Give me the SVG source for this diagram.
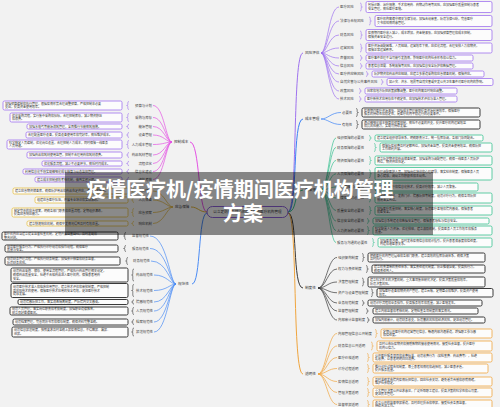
<svg xmlns="http://www.w3.org/2000/svg" width="500" height="407" viewBox="0 0 500 407">
<style>
text{font-family:"Noto Sans CJK SC","Noto Sans",sans-serif}
.bl{font-size:3.6px;fill:#333}
.sl{font-size:3.4px;fill:#444}
.le{font-size:3.4px;fill:#444;text-anchor:end}
.bt{font-size:3px;fill:#333}
.bx{fill:#fcfcfc;stroke-width:0.8}
.bx.sk{stroke-width:1}
.br{fill:none;stroke-width:0.6}
.fan{fill:none;stroke-width:0.7}
.trunk{fill:none;stroke-width:1}
.sp{stroke:#9f72ef}.sb{stroke:#3b82f6}.sg{stroke:#38c190}.sk{stroke:#3a3a3a}.so{stroke:#f0a53e}.sm{stroke:#e452e4}.sy{stroke:#dcb038}.sl2{stroke:#4b8cf5}.syb{stroke:#e6bf45}
.title{font-size:20px;font-weight:700;fill:#fff;text-anchor:middle}
</style>
<rect width="500" height="407" fill="#f2f2f2"/>
<g id="connectors">
<path class="trunk sp" d="M288,212C298,212 292,53 303,53"/>
<path class="trunk sb" d="M288,212C298,212 292,119 303,119"/>
<path class="trunk sg" d="M288,212C298,212 293,190 303,190"/>
<path class="trunk sk" d="M288,213C298,213 292,288 303,288"/>
<path class="trunk so" d="M288,213C298,213 292,374 303,374"/>
<path class="trunk sm" d="M207,212C198,212 200,142 190,142"/>
<path class="trunk sy" d="M207,212C199,212 198,207 191,207"/>
<path class="trunk sl2" d="M207,213C198,213 201,284 192,284"/>
<g class="fan sp">
<path d="M321,53C327,53 329,7 339,7"/><path d="M321,53C327,53 329,21 339,21"/><path d="M321,53C327,53 329,35 339,35"/><path d="M321,53C327,53 329,48 339,48"/><path d="M321,53C327,53 329,58 339,58"/><path d="M321,53C327,53 329,66 339,66"/><path d="M321,53C327,53 329,74 339,74"/><path d="M321,53C327,53 329,82 339,82"/><path d="M321,53C327,53 329,91 339,91"/><path d="M321,53C327,53 329,99 339,99"/>
</g>
<g class="fan sb">
<path d="M321,119C328,119 331,112.5 341,112.5"/><path d="M321,119C328,119 331,124.5 341,124.5"/>
</g>
<g class="fan sg">
<path d="M321,190C328,190 330,138 336,138"/><path d="M321,190C328,190 330,147.5 336,147.5"/><path d="M321,190C328,190 330,160.5 336,160.5"/><path d="M321,190C328,190 330,173.75 336,173.75"/><path d="M321,190C328,190 330,187 336,187"/><path d="M321,190C328,190 330,198 336,198"/><path d="M321,190C328,190 330,210.5 336,210.5"/><path d="M321,190C328,190 330,221 336,221"/><path d="M321,190C328,190 330,230.5 336,230.5"/><path d="M321,190C328,190 330,242.5 336,242.5"/>
</g>
<g class="fan sk">
<path d="M318,288C326,288 328,257.5 337,257.5"/><path d="M318,288C326,288 328,269 337,269"/><path d="M318,288C326,288 328,282 337,282"/><path d="M318,288C326,288 328,292.75 337,292.75"/><path d="M318,288C326,288 328,303 337,303"/><path d="M318,288C326,288 328,311 337,311"/><path d="M318,288C326,288 328,320 337,320"/>
</g>
<g class="fan so">
<path d="M318,374C326,374 328,333.5 337,333.5"/><path d="M318,374C326,374 328,346 337,346"/><path d="M318,374C326,374 328,357.5 337,357.5"/><path d="M318,374C326,374 328,368.5 337,368.5"/><path d="M318,374C326,374 328,381.5 337,381.5"/><path d="M318,374C326,374 328,392.5 337,392.5"/><path d="M318,374C326,374 328,404.5 337,404.5"/>
</g>
<g class="fan sm">
<path d="M172,142C166,142 164,105.5 153,105.5"/><path d="M172,142C166,142 164,117.5 153,117.5"/><path d="M172,142C166,142 164,126.5 153,126.5"/><path d="M172,142C166,142 164,135 153,135"/><path d="M172,142C166,142 164,144.5 153,144.5"/><path d="M172,142C166,142 164,155 153,155"/><path d="M172,142C166,142 164,163.5 153,163.5"/><path d="M172,142C166,142 164,171.5 153,171.5"/><path d="M172,142C166,142 164,179.5 153,179.5"/>
</g>
<g class="fan sy">
<path d="M173,207C167,207 164,191 153,191"/><path d="M173,207C167,207 164,200 153,200"/><path d="M173,207C167,207 164,212.5 153,212.5"/><path d="M173,207C167,207 164,223.5 153,223.5"/>
</g>
<g class="fan sl2">
<path d="M176,284C170,284 167,236 150,236"/><path d="M176,284C170,284 167,248.5 150,248.5"/><path d="M176,284C170,284 167,261 151,261"/><path d="M176,284C170,284 167,275 154,275"/><path d="M176,284C170,284 167,290.5 154,290.5"/><path d="M176,284C170,284 167,302 154,302"/><path d="M176,284C170,284 167,311 154,311"/><path d="M176,284C170,284 167,322 154,322"/><path d="M176,284C170,284 167,332 154,332"/>
</g>
</g>
<g id="root">
<rect x="207" y="206.5" width="81" height="11" rx="5.5" fill="#f4f4f4" stroke="#8b5fd6" stroke-width="1"/>
<text x="247.5" y="213.3" font-size="3.6" fill="#333" text-anchor="middle">以立足防控为核心的疫情期间医疗机构管理</text>
</g>
<g id="b-risk"><text class="bl" x="305" y="54.3">风险评估</text></g>
<g id="r1"><text class="sl" x="340" y="8.2">医疗风险</text><path class="br sp" d="M360,3q1.2,0 1.2,1.2V6.2q0,0.8 1.2,0.8q-1.2,0 -1.2,0.8V9.8q0,1.2 -1.2,1.2"/><rect class="bx sp" x="366" y="1.5" width="126" height="11" rx="1.5"/><text class="bt" x="368" y="6.15">包括诊断、治疗措施、手术和用药、药物副作用等风险，应加强医疗质量控制与患者</text><text class="bt" x="368" y="9.95">安全管理，降低医疗差错。</text></g>
<g id="r2"><text class="sl" x="340" y="22.2">法律与合规风险</text><path class="br sp" d="M369,17q1.2,0 1.2,1.2V20.2q0,0.8 1.2,0.8q-1.2,0 -1.2,0.8V23.8q0,1.2 -1.2,1.2"/><rect class="bx sp" x="375" y="15.5" width="117" height="11" rx="1.5"/><text class="bt" x="377" y="20.15">医疗机构需遵守相关法律法规，加强合规审查，防范法律纠纷，完善医疗</text><text class="bt" x="377" y="23.95">文书和知情同意管理。</text></g>
<g id="r3"><text class="sl" x="340" y="36.2">财务风险</text><path class="br sp" d="M360,31q1.2,0 1.2,1.2V34.2q0,0.8 1.2,0.8q-1.2,0 -1.2,0.8V37.8q0,1.2 -1.2,1.2"/><rect class="bx sp" x="366" y="29.5" width="126" height="11" rx="1.5"/><text class="bt" x="368" y="34.15">疫情期间医疗收入减少，成本增加，资金链紧张，应加强预算管理和成本控制，</text><text class="bt" x="368" y="37.95">保障资金安全运行。</text></g>
<g id="r4"><text class="sl" x="340" y="49.2">运营风险</text><path class="br sp" d="M360,44q1.2,0 1.2,1.2V47.2q0,0.8 1.2,0.8q-1.2,0 -1.2,0.8V50.8q0,1.2 -1.2,1.2"/><rect class="bx sp" x="366" y="43" width="126" height="10" rx="1.5"/><text class="bt" x="368" y="47.15">医疗资源调配困难，人员短缺，运营效率下降，应优化流程，合理安排人力和物资，</text><text class="bt" x="368" y="50.95">保障正常运营秩序。</text></g>
<g id="r5"><text class="sl" x="340" y="59.2">声誉风险</text><path class="br sp" d="M360,55.5q1.2,0 1.2,1.2V57.2q0,0.8 1.2,0.8q-1.2,0 -1.2,0.8V59.3q0,1.2 -1.2,1.2"/><rect class="bx sp" x="366" y="55" width="107" height="6" rx="1.5"/><text class="bt" x="368" y="59.05">医疗事件处理不当可能引发舆情，影响医疗机构社会形象和公信力。</text></g>
<g id="r6"><text class="sl" x="340" y="67.2">信息风险</text><path class="br sp" d="M360,63.5q1.2,0 1.2,1.2V65.2q0,0.8 1.2,0.8q-1.2,0 -1.2,0.8V67.3q0,1.2 -1.2,1.2"/><rect class="bx sp" x="366" y="63" width="107" height="6" rx="1.5"/><text class="bt" x="368" y="67.05">患者信息泄露、系统故障等风险，应加强信息安全防护和数据管理。</text></g>
<g id="r7"><text class="sl" x="340" y="75.2">医疗供应链风险</text><path class="br sp" d="M366,71.5q1.2,0 1.2,1.2V73.2q0,0.8 1.2,0.8q-1.2,0 -1.2,0.8V75.3q0,1.2 -1.2,1.2"/><rect class="bx sp" x="372" y="71" width="112" height="6" rx="1.5"/><text class="bt" x="374" y="75.05">防护物资和药品供应短缺，应建立多渠道采购和应急储备机制，保障供应。</text></g>
<g id="r8"><text class="sl" x="340" y="83.2">自然灾害与公共事件风险</text><path class="br sp" d="M381,79.5q1.2,0 1.2,1.2V81.2q0,0.8 1.2,0.8q-1.2,0 -1.2,0.8V83.3q0,1.2 -1.2,1.2"/><rect class="bx sp" x="387" y="78.5" width="106" height="7" rx="1.5"/><text class="bt" x="389" y="83.05">如火灾、洪水、地震等自然灾害或突发公共卫生事件对医疗机构的影响。</text></g>
<g id="r9"><text class="sl" x="340" y="92.2">政策风险</text><path class="br sp" d="M359,88.5q1.2,0 1.2,1.2V90.2q0,0.8 1.2,0.8q-1.2,0 -1.2,0.8V92.3q0,1.2 -1.2,1.2"/><rect class="bx sp" x="365" y="88" width="92" height="6" rx="1.5"/><text class="bt" x="367" y="92.05">国家和地方防控政策频繁调整，医疗机构需及时响应调整。</text></g>
<g id="r10"><text class="sl" x="340" y="100.2">技术风险</text><path class="br sp" d="M359,96.5q1.2,0 1.2,1.2V98.2q0,0.8 1.2,0.8q-1.2,0 -1.2,0.8V100.3q0,1.2 -1.2,1.2"/><rect class="bx sp" x="365" y="96" width="92" height="6" rx="1.5"/><text class="bt" x="367" y="100.05">医疗新技术应用存在不确定性，应加强技术评估与准入管理。</text></g>
<g id="b-cost"><text class="bl" x="305" y="120.3">成本管理</text></g>
<g id="c1"><text class="sl" x="342" y="113.7">必要性</text><path class="br sk" d="M356,108.5q1.2,0 1.2,1.2V111.7q0,0.8 1.2,0.8q-1.2,0 -1.2,0.8V115.3q0,1.2 -1.2,1.2"/><rect class="bx sk" x="362" y="108" width="118" height="9" rx="1.5"/><text class="bt" x="364" y="111.65">疫情期间医疗资源紧张，加强成本管理能够提高资源利用效率，保障医疗</text><text class="bt" x="364" y="115.45">服务的持续性和稳定性，是医疗机构平稳运行的必要条件。</text></g>
<g id="c2"><text class="sl" x="342" y="125.7">有效性</text><path class="br sk" d="M356,120.5q1.2,0 1.2,1.2V123.7q0,0.8 1.2,0.8q-1.2,0 -1.2,0.8V127.3q0,1.2 -1.2,1.2"/><rect class="bx sk" x="362" y="120" width="118" height="9" rx="1.5"/><text class="bt" x="364" y="123.65">通过精细化成本核算和预算控制，降低不必要的开支，提升医疗机构运营效益</text><text class="bt" x="364" y="127.45">和抗风险能力，实现可持续发展。</text></g>
<g id="b-guarantee"><text class="bl" x="305" y="191.3">保障措施</text></g>
<g id="g1"><text class="sl" x="337" y="139.2">组织保障的必要性</text><path class="br sg" d="M369,135.5q1.2,0 1.2,1.2V137.2q0,0.8 1.2,0.8q-1.2,0 -1.2,0.8V139.3q0,1.2 -1.2,1.2"/><rect class="bx sg" x="375" y="135" width="108" height="6" rx="1.5"/><text class="bt" x="377" y="139.05">建立健全组织领导体系，明确职责分工，统一指挥协调，各部门协同配合。</text></g>
<g id="g2"><text class="sl" x="337" y="148.7">财务保障的必要性</text><path class="br sg" d="M374,143.5q1.2,0 1.2,1.2V146.7q0,0.8 1.2,0.8q-1.2,0 -1.2,0.8V150.3q0,1.2 -1.2,1.2"/><rect class="bx sg" x="380" y="143" width="112" height="9" rx="1.5"/><text class="bt" x="382" y="146.65">保障防疫经费及时足额到位，加强资金监管，提高资金使用效益，确保防控</text><text class="bt" x="382" y="150.45">工作顺利开展。</text></g>
<g id="g3"><text class="sl" x="337" y="161.7">物资保障的必要性</text><path class="br sg" d="M369,156.5q1.2,0 1.2,1.2V159.7q0,0.8 1.2,0.8q-1.2,0 -1.2,0.8V163.3q0,1.2 -1.2,1.2"/><rect class="bx sg" x="375" y="156" width="117" height="9" rx="1.5"/><text class="bt" x="377" y="159.65">建立防护物资和药品储备制度，加强采购与调配管理，确保一线医务人员防护</text><text class="bt" x="377" y="163.45">到位，物资供应充足。</text></g>
<g id="g4"><text class="sl" x="337" y="174.95">人员保障的必要性</text><path class="br sg" d="M369,169.75q1.2,0 1.2,1.2V172.95q0,0.8 1.2,0.8q-1.2,0 -1.2,0.8V176.55q0,1.2 -1.2,1.2"/><rect class="bx sg" x="375" y="167.5" width="117" height="12.5" rx="1.5"/><text class="bt" x="377" y="172.9">合理调配医护人员，加强岗位培训和心理疏导，落实轮休制度，保障医务人员</text><text class="bt" x="377" y="176.7">身心健康，调动工作积极性和主动性。</text></g>
<g id="g5"><text class="sl" x="337" y="188.2">技术保障的必要性</text><path class="br sg" d="M369,184.5q1.2,0 1.2,1.2V186.2q0,0.8 1.2,0.8q-1.2,0 -1.2,0.8V188.3q0,1.2 -1.2,1.2"/><rect class="bx sg" x="375" y="183" width="103" height="8" rx="1.5"/><text class="bt" x="377" y="188.05">推广远程医疗和信息化技术，提高诊疗效率，减少人员聚集。</text></g>
<g id="g6"><text class="sl" x="337" y="199.2">制度保障的必要性</text><path class="br sg" d="M369,194q1.2,0 1.2,1.2V197.2q0,0.8 1.2,0.8q-1.2,0 -1.2,0.8V200.8q0,1.2 -1.2,1.2"/><rect class="bx sg" x="375" y="193" width="117" height="10" rx="1.5"/><text class="bt" x="377" y="197.15">完善预检分诊、发热门诊、院感防控等制度，规范诊疗行为，确保各项防控</text><text class="bt" x="377" y="200.95">措施落实到位。</text></g>
<g id="g7"><text class="sl" x="337" y="211.7">质量安全的必要性</text><path class="br sg" d="M369,206.5q1.2,0 1.2,1.2V209.7q0,0.8 1.2,0.8q-1.2,0 -1.2,0.8V213.3q0,1.2 -1.2,1.2"/><rect class="bx sg" x="375" y="206" width="117" height="9" rx="1.5"/><text class="bt" x="377" y="209.65">加强医疗质量控制，落实核心制度，防范医疗差错和院内感染，保障患者</text><text class="bt" x="377" y="213.45">就医安全。</text></g>
<g id="g8"><text class="sl" x="337" y="222.2">信息安全的必要性</text><path class="br sg" d="M367,218.5q1.2,0 1.2,1.2V220.2q0,0.8 1.2,0.8q-1.2,0 -1.2,0.8V222.3q0,1.2 -1.2,1.2"/><rect class="bx sg" x="373" y="218" width="116" height="6" rx="1.5"/><text class="bt" x="375" y="222.05">加强信息系统建设和数据安全管理，保障患者隐私与信息安全。</text></g>
<g id="g9"><text class="sl" x="337" y="231.7">人力资源的必要性</text><path class="br sg" d="M367,226.5q1.2,0 1.2,1.2V229.7q0,0.8 1.2,0.8q-1.2,0 -1.2,0.8V233.3q0,1.2 -1.2,1.2"/><rect class="bx sg" x="373" y="226" width="119" height="9" rx="1.5"/><text class="bt" x="375" y="229.65">科学配置人力资源，优化排班，建立激励机制，提高医务人员工作效率和服务</text><text class="bt" x="375" y="233.45">质量。</text></g>
<g id="g10"><text class="sl" x="337" y="243.7">服务与沟通的必要性</text><path class="br sg" d="M372,238.5q1.2,0 1.2,1.2V241.7q0,0.8 1.2,0.8q-1.2,0 -1.2,0.8V245.3q0,1.2 -1.2,1.2"/><rect class="bx sg" x="378" y="238" width="114" height="9" rx="1.5"/><text class="bt" x="380" y="241.65">加强医患沟通，及时发布疫情信息和就诊指引，提升患者满意度和信任度，</text><text class="bt" x="380" y="245.45">构建和谐医患关系。</text></g>
<g id="b-system"><text class="bl" x="305" y="289.3">制度性</text></g>
<g id="k1"><text class="sl" x="338" y="258.7">组织架构制度</text><path class="br sk" d="M362,253.5q1.2,0 1.2,1.2V256.7q0,0.8 1.2,0.8q-1.2,0 -1.2,0.8V260.3q0,1.2 -1.2,1.2"/><rect class="bx sk" x="368" y="253" width="117" height="9" rx="1.5"/><text class="bt" x="370" y="256.65">明确医疗机构管理层级和各部门职责，建立高效的指挥协调体系，确保决策</text><text class="bt" x="370" y="260.45">及时执行。</text></g>
<g id="k2"><text class="sl" x="338" y="270.2">权力与责任制度</text><path class="br sk" d="M366,265.5q1.2,0 1.2,1.2V268.2q0,0.8 1.2,0.8q-1.2,0 -1.2,0.8V271.3q0,1.2 -1.2,1.2"/><rect class="bx sk" x="372" y="265" width="113" height="8" rx="1.5"/><text class="bt" x="374" y="268.15">建立权责清晰的责任体系，落实责任追究制度，防止推诿扯皮，提高执行力，</text><text class="bt" x="374" y="271.95">确保责任到人。</text></g>
<g id="k3"><text class="sl" x="338" y="283.2">决策管理制度</text><path class="br sk" d="M362,278q1.2,0 1.2,1.2V281.2q0,0.8 1.2,0.8q-1.2,0 -1.2,0.8V284.8q0,1.2 -1.2,1.2"/><rect class="bx sk" x="368" y="277" width="117" height="10" rx="1.5"/><text class="bt" x="370" y="281.15">建立科学民主的决策机制，重大事项集体研究决定，提高决策质量和效率，</text><text class="bt" x="370" y="284.95">防范决策风险。</text></g>
<g id="k4"><text class="sl" x="338" y="293.95">资产与设备管理制度</text><path class="br sk" d="M371,288.75q1.2,0 1.2,1.2V291.95q0,0.8 1.2,0.8q-1.2,0 -1.2,0.8V295.55q0,1.2 -1.2,1.2"/><rect class="bx sk" x="377" y="288.5" width="116" height="8.5" rx="1.5"/><text class="bt" x="379" y="291.9">加强医疗设备和物资资产管理，建立台账，定期盘点和维护，提高资产使用</text><text class="bt" x="379" y="295.7">效率。</text></g>
<g id="k5"><text class="sl" x="338" y="304.2">业务规范制度</text><path class="br sk" d="M362,300.5q1.2,0 1.2,1.2V302.2q0,0.8 1.2,0.8q-1.2,0 -1.2,0.8V304.3q0,1.2 -1.2,1.2"/><rect class="bx sk" x="368" y="300" width="114" height="6" rx="1.5"/><text class="bt" x="370" y="304.05">规范诊疗流程和业务操作，提高服务效率和质量，减少差错发生。</text></g>
<g id="k6"><text class="sl" x="338" y="312.2">监督管理制度</text><path class="br sk" d="M366,308.5q1.2,0 1.2,1.2V310.2q0,0.8 1.2,0.8q-1.2,0 -1.2,0.8V312.3q0,1.2 -1.2,1.2"/><rect class="bx sk" x="373" y="308" width="105" height="6" rx="1.5"/><text class="bt" x="375" y="312.05">建立内部监督和考核机制，定期检查各项制度的落实情况。</text></g>
<g id="k7"><text class="sl" x="338" y="321.2">内部审计监督制度</text><path class="br sk" d="M367,317.5q1.2,0 1.2,1.2V319.2q0,0.8 1.2,0.8q-1.2,0 -1.2,0.8V321.3q0,1.2 -1.2,1.2"/><rect class="bx sk" x="373" y="317" width="112" height="6" rx="1.5"/><text class="bt" x="375" y="321.05">加强内部审计，规范财务收支，防范廉政风险和经济风险，促进规范管理。</text></g>
<g id="b-open"><text class="bl" x="305" y="375.3">透明性</text></g>
<g id="o1"><text class="sl" x="338" y="334.7">内部管理信息公开制度</text><path class="br so" d="M375,329.5q1.2,0 1.2,1.2V332.7q0,0.8 1.2,0.8q-1.2,0 -1.2,0.8V336.3q0,1.2 -1.2,1.2"/><rect class="bx so" x="381" y="329" width="111" height="9" rx="1.5"/><text class="bt" x="383" y="332.65">定期公开医疗机构运营管理信息，畅通内部沟通渠道，增强职工参与感</text><text class="bt" x="383" y="336.45">和信任度。</text></g>
<g id="o2"><text class="sl" x="338" y="347.2">财务信息公开透明</text><path class="br so" d="M371,342q1.2,0 1.2,1.2V345.2q0,0.8 1.2,0.8q-1.2,0 -1.2,0.8V348.8q0,1.2 -1.2,1.2"/><rect class="bx so" x="377" y="341" width="115" height="10" rx="1.5"/><text class="bt" x="379" y="345.15">及时公布防疫物资和捐赠款物的接收使用情况，接受社会监督，提升医疗</text><text class="bt" x="379" y="348.95">机构公信力。</text></g>
<g id="o3"><text class="sl" x="338" y="358.7">医疗价格透明</text><path class="br so" d="M367,353.5q1.2,0 1.2,1.2V356.7q0,0.8 1.2,0.8q-1.2,0 -1.2,0.8V360.3q0,1.2 -1.2,1.2"/><rect class="bx so" x="373" y="353" width="119" height="9" rx="1.5"/><text class="bt" x="375" y="356.65">公开医疗服务项目和收费标准，规范收费行为（如检查费、药品费等），杜绝</text><text class="bt" x="375" y="360.45">乱收费，让患者明明白白消费。</text></g>
<g id="o4"><text class="sl" x="338" y="369.7">诊疗过程透明</text><path class="br so" d="M367,364.5q1.2,0 1.2,1.2V367.7q0,0.8 1.2,0.8q-1.2,0 -1.2,0.8V371.3q0,1.2 -1.2,1.2"/><rect class="bx so" x="373" y="364" width="115" height="9" rx="1.5"/><text class="bt" x="375" y="367.65">推行诊疗过程告知制度，尊重患者知情权和选择权，减少医患矛盾，</text><text class="bt" x="375" y="371.45">提升服务质量。</text></g>
<g id="o5"><text class="sl" x="338" y="382.7">疫情信息透明</text><path class="br so" d="M367,377.5q1.2,0 1.2,1.2V380.7q0,0.8 1.2,0.8q-1.2,0 -1.2,0.8V384.3q0,1.2 -1.2,1.2"/><rect class="bx so" x="373" y="377" width="119" height="9" rx="1.5"/><text class="bt" x="375" y="380.65">及时准确发布院内疫情防控信息，回应社会关切，避免谣言传播和恐慌情绪，</text><text class="bt" x="375" y="384.45">维护社会稳定。</text></g>
<g id="o6"><text class="sl" x="338" y="393.7">管理决策透明</text><path class="br so" d="M367,388.5q1.2,0 1.2,1.2V391.7q0,0.8 1.2,0.8q-1.2,0 -1.2,0.8V395.3q0,1.2 -1.2,1.2"/><rect class="bx so" x="373" y="388" width="119" height="9" rx="1.5"/><text class="bt" x="375" y="391.65">重大管理决策公开征求意见，广泛听取职工建议，提高决策的科学性和认可度，</text><text class="bt" x="375" y="395.45">促进民主管理。</text></g>
<g id="o7"><text class="sl" x="338" y="405.7">监督举报透明</text><path class="br so" d="M367,400.5q1.2,0 1.2,1.2V403.7q0,0.8 1.2,0.8q-1.2,0 -1.2,0.8V407.3q0,1.2 -1.2,1.2"/><rect class="bx so" x="373" y="400" width="119" height="9" rx="1.5"/><text class="bt" x="375" y="403.65">设立公开的监督举报渠道，及时处理投诉和举报，接受社会各界监督，</text><text class="bt" x="375" y="407.45">持续改进工作。</text></g>
<g id="b-control"><text class="bl" x="174" y="143.3">控制成本</text></g>
<g id="m1"><text class="le" x="152" y="106.7">预算与计划</text><path class="br sp" d="M129,101.5q-1.2,0 -1.2,1.2V104.7q0,0.8 -1.2,0.8q1.2,0 1.2,0.8V108.3q0,1.2 1.2,1.2"/><rect class="bx sp" x="3" y="101" width="119" height="9" rx="1.5"/><text class="bt" x="5" y="104.65">加强预算编制和执行管理，根据疫情形势合理调整预算，严格控制非必要</text><text class="bt" x="5" y="108.45">支出，提高资金使用效率。</text></g>
<g id="m2"><text class="le" x="152" y="118.7">采购与库存</text><path class="br sp" d="M129,113.5q-1.2,0 -1.2,1.2V116.7q0,0.8 -1.2,0.8q1.2,0 1.2,0.8V120.3q0,1.2 1.2,1.2"/><rect class="bx sp" x="10" y="113" width="112" height="9" rx="1.5"/><text class="bt" x="12" y="116.65">优化采购流程，实行集中采购和招标，合理控制库存，减少物资积压</text><text class="bt" x="12" y="120.45">和浪费。</text></g>
<g id="m3"><text class="le" x="152" y="127.7">能源管理</text><path class="br sp" d="M129,124.3q-1.2,0 -1.2,1.2V125.7q0,0.8 -1.2,0.8q1.2,0 1.2,0.8V127.5q0,1.2 1.2,1.2"/><rect class="bx sp" x="27" y="124" width="95" height="5" rx="1.5"/><text class="bt" x="29" y="127.55">加强水电气等能源消耗管理，全面推行节能降耗措施。</text></g>
<g id="m4"><text class="le" x="152" y="136.2">设备管理</text><path class="br sp" d="M129,132.5q-1.2,0 -1.2,1.2V134.2q0,0.8 -1.2,0.8q1.2,0 1.2,0.8V136.3q0,1.2 1.2,1.2"/><rect class="bx sp" x="26" y="132" width="96" height="6" rx="1.5"/><text class="bt" x="28" y="136.05">合理配置医疗设备，提高设备使用率和完好率，降低维护成本。</text></g>
<g id="m5"><text class="le" x="152" y="145.7">人力成本管理</text><path class="br sp" d="M129,140.5q-1.2,0 -1.2,1.2V143.7q0,0.8 -1.2,0.8q1.2,0 1.2,0.8V147.3q0,1.2 1.2,1.2"/><rect class="bx sp" x="7" y="140" width="115" height="9" rx="1.5"/><text class="bt" x="9" y="143.65">科学核定人员编制，优化岗位设置，合理控制人力成本，同时保障一线医务</text><text class="bt" x="9" y="147.45">人员待遇。</text></g>
<g id="m6"><text class="le" x="152" y="156.2">药品耗材管理</text><path class="br sp" d="M129,152.5q-1.2,0 -1.2,1.2V154.2q0,0.8 -1.2,0.8q1.2,0 1.2,0.8V156.3q0,1.2 1.2,1.2"/><rect class="bx sp" x="27" y="152" width="95" height="6" rx="1.5"/><text class="bt" x="29" y="156.05">加强药品和耗材使用监管，控制不合理用药和耗材浪费。</text></g>
<g id="m7"><text class="le" x="152" y="164.7">流程优化</text><path class="br sp" d="M129,161.3q-1.2,0 -1.2,1.2V162.7q0,0.8 -1.2,0.8q1.2,0 1.2,0.8V164.5q0,1.2 1.2,1.2"/><rect class="bx sp" x="42" y="161" width="80" height="5" rx="1.5"/><text class="bt" x="44" y="164.55">优化服务流程，减少不必要环节，降低时间成本。</text></g>
<g id="m8"><text class="le" x="152" y="172.7">信息化建设</text><path class="br sp" d="M129,169.3q-1.2,0 -1.2,1.2V170.7q0,0.8 -1.2,0.8q1.2,0 1.2,0.8V172.5q0,1.2 1.2,1.2"/><rect class="bx sp" x="23" y="169" width="99" height="5" rx="1.5"/><text class="bt" x="25" y="172.55">利用信息化手段实现精细化成本核算与动态监控管理。</text></g>
<g id="m9"><text class="le" x="152" y="180.7">绩效考核</text><path class="br sp" d="M129,177.3q-1.2,0 -1.2,1.2V178.7q0,0.8 -1.2,0.8q1.2,0 1.2,0.8V180.5q0,1.2 1.2,1.2"/><rect class="bx sp" x="35" y="177" width="87" height="5" rx="1.5"/><text class="bt" x="37" y="180.55">建立成本控制绩效考核机制，做到奖惩分明。</text></g>
<g id="b-emergency"><text class="bl" x="175" y="208.3">应急保障</text></g>
<g id="y1"><text class="le" x="152" y="192.2">物资储备</text><path class="br syb" d="M134,188.5q-1.2,0 -1.2,1.2V190.2q0,0.8 -1.2,0.8q1.2,0 1.2,0.8V192.3q0,1.2 1.2,1.2"/><rect class="bx syb" x="13" y="188" width="115" height="6" rx="1.5"/><text class="bt" x="15" y="192.05">建立应急物资储备库，确保防护用品和药品充足供应，满足突发需求。</text></g>
<g id="y2"><text class="le" x="152" y="201.2">人员储备</text><path class="br syb" d="M134,197.5q-1.2,0 -1.2,1.2V199.2q0,0.8 -1.2,0.8q1.2,0 1.2,0.8V201.3q0,1.2 1.2,1.2"/><rect class="bx syb" x="35" y="197" width="93" height="6" rx="1.5"/><text class="bt" x="37" y="201.05">组建应急医疗队伍，开展专业培训和实战演练。</text></g>
<g id="y3"><text class="le" x="152" y="213.7">应急预案</text><path class="br syb" d="M134,208.5q-1.2,0 -1.2,1.2V211.7q0,0.8 -1.2,0.8q1.2,0 1.2,0.8V215.3q0,1.2 1.2,1.2"/><rect class="bx syb" x="12" y="208" width="116" height="9" rx="1.5"/><text class="bt" x="14" y="211.65">制定完善的应急预案，明确各部门职责和处置流程，定期组织演练，</text><text class="bt" x="14" y="215.45">提高应急响应能力。</text></g>
<g id="y4"><text class="le" x="152" y="224.7">响应机制</text><path class="br syb" d="M134,221.3q-1.2,0 -1.2,1.2V222.7q0,0.8 -1.2,0.8q1.2,0 1.2,0.8V224.5q0,1.2 1.2,1.2"/><rect class="bx syb" x="27" y="221" width="101" height="5" rx="1.5"/><text class="bt" x="29" y="224.55">建立快速响应机制，确保突发情况得到及时有效处置。</text></g>
<g id="b-norm"><text class="bl" x="178" y="285.3">规范性</text></g>
<g id="n0"><text class="le" x="149" y="237.2">监督规范性</text><path class="br sk" d="M126,232.5q-1.2,0 -1.2,1.2V235.2q0,0.8 -1.2,0.8q1.2,0 1.2,0.8V238.3q0,1.2 1.2,1.2"/><rect class="bx sk" x="2" y="232" width="116" height="8" rx="1.5"/><text class="bt" x="4" y="235.15">医疗机构应当建立健全监督检查机制，定期开展自查自纠，及时发现和</text><text class="bt" x="4" y="238.95">整改问题。</text></g>
<g id="n1"><text class="le" x="149" y="249.7">服务规范性</text><path class="br sk" d="M126,245.5q-1.2,0 -1.2,1.2V247.7q0,0.8 -1.2,0.8q1.2,0 1.2,0.8V250.3q0,1.2 1.2,1.2"/><rect class="bx sk" x="5" y="245" width="113" height="7" rx="1.5"/><text class="bt" x="7" y="247.65">规范医疗服务行为，严格执行诊疗规范和操作规程，确保医疗</text><text class="bt" x="7" y="251.3">质量与安全。</text></g>
<g id="n2"><text class="le" x="150" y="262.2">财务规范性</text><path class="br sk" d="M128,257.5q-1.2,0 -1.2,1.2V260.2q0,0.8 -1.2,0.8q1.2,0 1.2,0.8V263.3q0,1.2 1.2,1.2"/><rect class="bx sk" x="5" y="257" width="115" height="8" rx="1.5"/><text class="bt" x="7" y="260.15">规范财务管理流程，严格执行财务制度，加强会计核算和财务监督，</text><text class="bt" x="7" y="263.95">防范财务风险。</text></g>
<g id="n3"><text class="le" x="153" y="276.2">药品规范性</text><path class="br sk" d="M134,269q-1.2,0 -1.2,1.2V274.2q0,0.8 -1.2,0.8q1.2,0 1.2,0.8V279.8q0,1.2 1.2,1.2"/><rect class="bx sk" x="11" y="268" width="117" height="14" rx="1.5"/><text class="bt" x="13" y="272.25">规范药品采购、储存、使用全流程管理，严格执行药品管理相关规定，</text><text class="bt" x="13" y="276.05">确保药品质量安全，杜绝不合格药品进入医疗机构，保障患者用药</text><text class="bt" x="13" y="279.85">安全。</text></g>
<g id="n4"><text class="le" x="153" y="291.7">技术规范性</text><path class="br sk" d="M134,284.5q-1.2,0 -1.2,1.2V289.7q0,0.8 -1.2,0.8q1.2,0 1.2,0.8V295.3q0,1.2 1.2,1.2"/><rect class="bx sk" x="11" y="283.5" width="117" height="14" rx="1.5"/><text class="bt" x="13" y="287.75">规范医疗技术准入和临床应用管理，建立技术评估和审批制度，严格控制</text><text class="bt" x="13" y="291.55">高风险技术的使用，保障医疗技术应用的安全有效，促进医疗技术</text><text class="bt" x="13" y="295.35">健康发展。</text></g>
<g id="n5"><text class="le" x="153" y="303.2">院感规范性</text><path class="br sk" d="M134,299.8q-1.2,0 -1.2,1.2V301.2q0,0.8 -1.2,0.8q1.2,0 1.2,0.8V303q0,1.2 1.2,1.2"/><rect class="bx sk" x="18" y="299.5" width="110" height="5" rx="1.5"/><text class="bt" x="20" y="303.05">规范院感防控工作，落实消毒隔离制度，严防院内交叉感染。</text></g>
<g id="n6"><text class="le" x="153" y="312.2">人员规范性</text><path class="br sk" d="M134,307.5q-1.2,0 -1.2,1.2V310.2q0,0.8 -1.2,0.8q1.2,0 1.2,0.8V313.3q0,1.2 1.2,1.2"/><rect class="bx sk" x="10" y="307" width="118" height="8" rx="1.5"/><text class="bt" x="12" y="310.15">规范人员管理，落实岗位职责和考勤制度，加强职业道德教育，</text><text class="bt" x="12" y="313.95">树立良好医德医风。</text></g>
<g id="n7"><text class="le" x="153" y="323.2">档案规范性</text><path class="br sk" d="M134,319.5q-1.2,0 -1.2,1.2V321.2q0,0.8 -1.2,0.8q1.2,0 1.2,0.8V323.3q0,1.2 1.2,1.2"/><rect class="bx sk" x="13" y="319" width="115" height="6" rx="1.5"/><text class="bt" x="15" y="323.05">规范档案管理，完善病历书写和保存制度，确保资料完整准确。</text></g>
<g id="n8"><text class="le" x="153" y="333.2">报送规范性</text><path class="br sk" d="M134,328q-1.2,0 -1.2,1.2V331.2q0,0.8 -1.2,0.8q1.2,0 1.2,0.8V334.8q0,1.2 1.2,1.2"/><rect class="bx sk" x="12" y="327" width="116" height="10" rx="1.5"/><text class="bt" x="14" y="331.15">规范信息报送制度，按照要求及时准确上报疫情信息，不得瞒报、漏报、</text><text class="bt" x="14" y="334.95">迟报。</text></g>
<g id="title">
<rect x="65" y="172" width="368" height="63" fill="#000" fill-opacity="0.45"/>
<text class="title" x="240" y="197">疫情医疗机/疫情期间医疗机构管理</text>
<text class="title" x="243" y="221">方案</text>
</g>
</svg>
